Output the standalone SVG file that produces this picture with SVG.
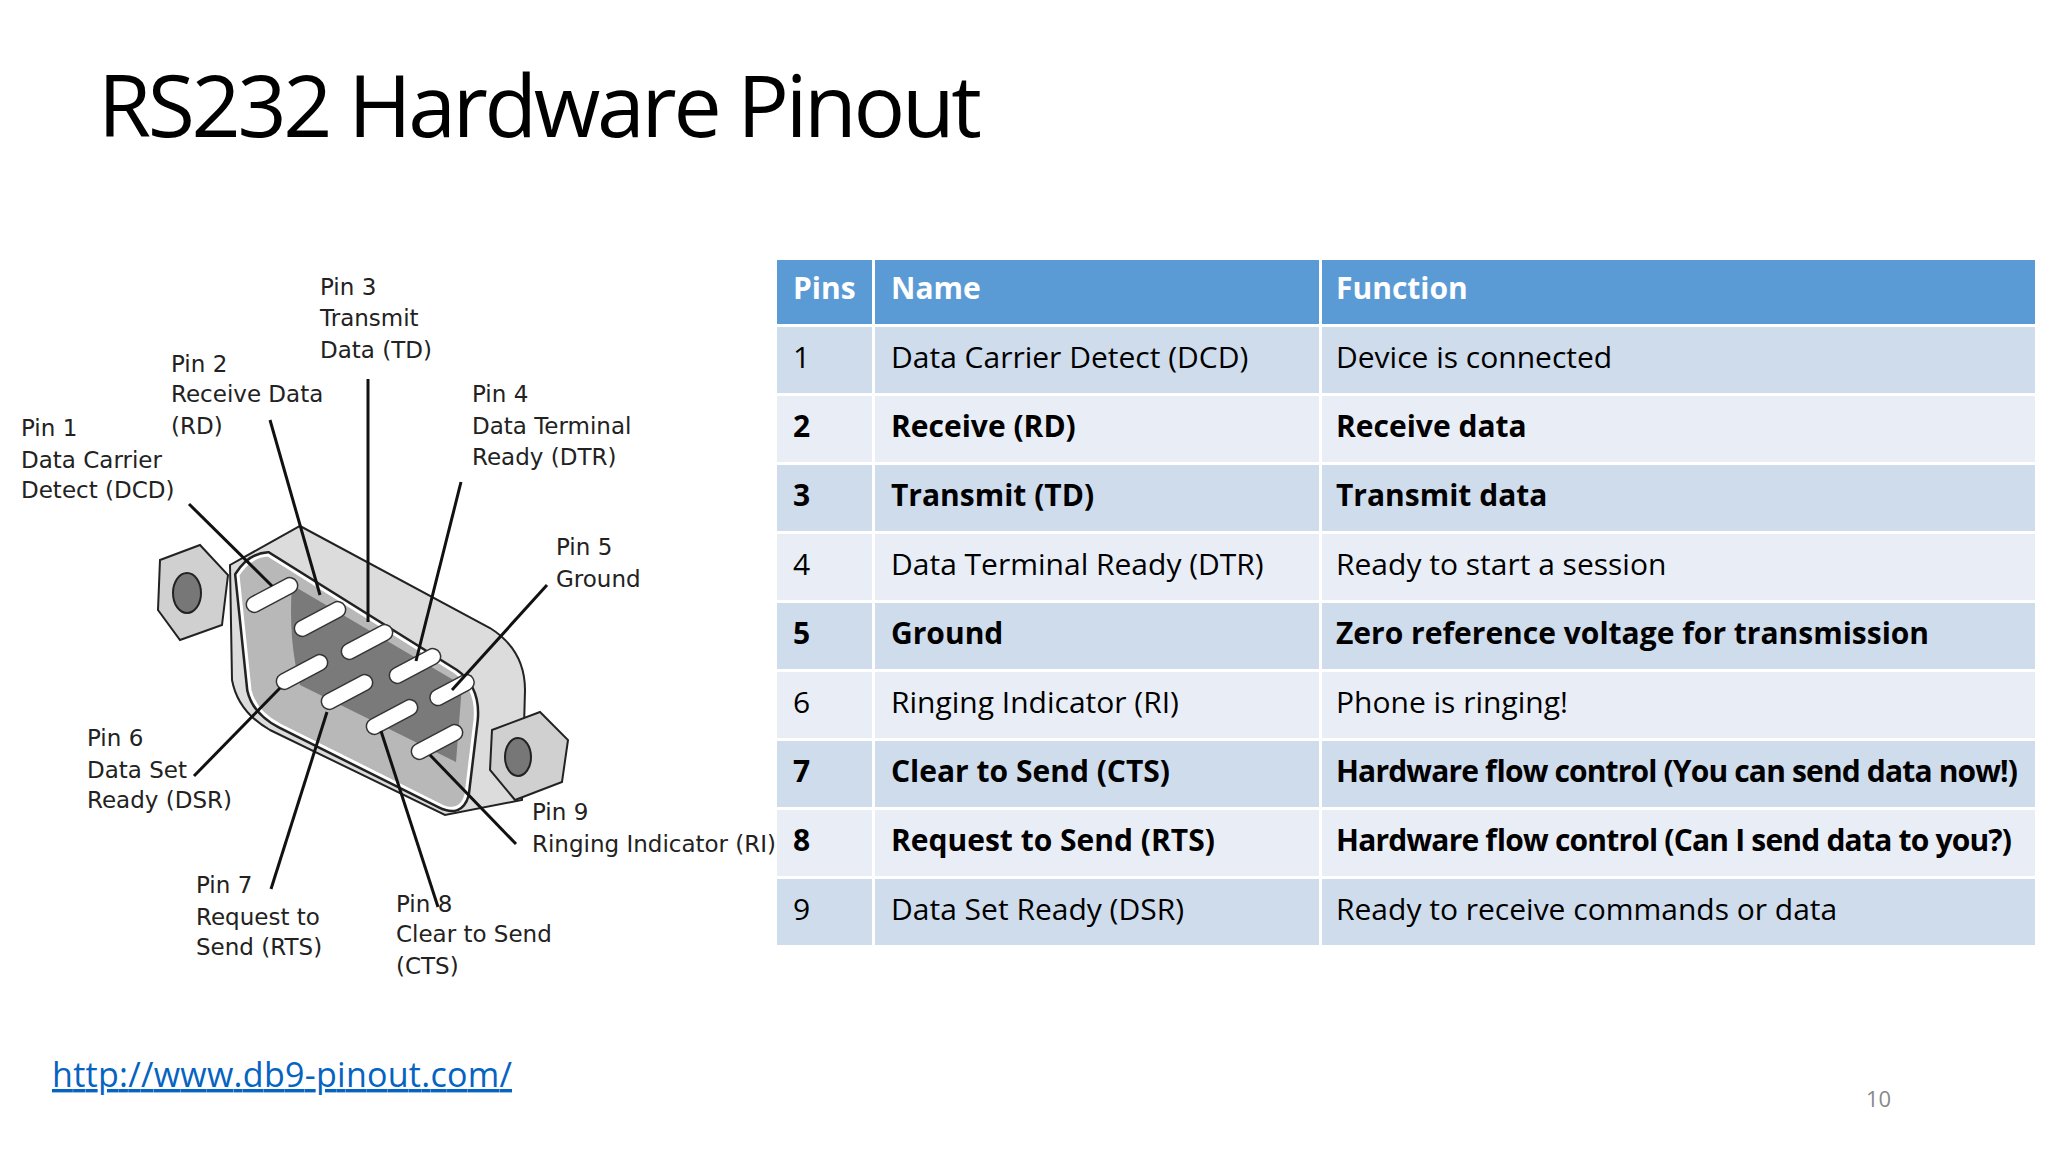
<svg xmlns="http://www.w3.org/2000/svg" width="2048" height="1152" viewBox="0 0 2048 1152">
<style>
.lbl{font-family:"DejaVu Sans",sans-serif;font-size:23px;fill:#222}
.ld{stroke:#111;stroke-width:3;fill:none}
.hd{font-family:"Open Sans","Liberation Sans",sans-serif;font-size:30px;font-weight:bold;fill:#fff}
.td{font-family:"Open Sans","Liberation Sans",sans-serif;font-size:30px;fill:#000}
.b{font-weight:bold}
.ra{fill:#cfdcec}.rb{fill:#e9eef6}
.pin{fill:#fff;stroke:#333;stroke-width:1.5}
</style>
<rect width="2048" height="1152" fill="#fff"/>
<text x="98" y="137" font-family="Open Sans,Liberation Sans,sans-serif" font-size="86" fill="#000" textLength="884">RS232 Hardware Pinout</text>

<g id="connector">
<g id="nut-left">
<polygon points="160,560 200,545 228,575 222,625 180,640 158,610" fill="#d0d0d0" stroke="#222" stroke-width="2"/>
<ellipse cx="187" cy="593" rx="14" ry="20" fill="#777" stroke="#222" stroke-width="2"/>
</g>
<path d="M230,565 L300,526 L490,628 Q525,650 525,690 L522,800 L445,815 L270,730 Q238,712 232,680 Z" fill="#dcdcdc" stroke="#222" stroke-width="2"/>
<path d="M238,575 Q250,556 268,555 L455,672 Q478,688 475,720 L466,795 Q460,815 440,805 L280,725 Q255,712 250,690 Z" fill="#b8b8b8" stroke="#222" stroke-width="8"/>
<path d="M238,575 Q250,556 268,555 L455,672 Q478,688 475,720 L466,795 Q460,815 440,805 L280,725 Q255,712 250,690 Z" fill="#b8b8b8" stroke="#fff" stroke-width="3"/>
<path d="M292,585 L462,685 L456,762 L300,685 Q288,640 292,585 Z" fill="#7a7a7a"/>
<g id="nut-right">
<polygon points="492,730 540,712 568,740 562,782 515,800 490,770" fill="#d0d0d0" stroke="#222" stroke-width="2"/>
<ellipse cx="518" cy="757" rx="13" ry="19" fill="#777" stroke="#222" stroke-width="2"/>
</g>
<g id="pins">
<rect class="pin" x="-28" y="-8" width="56" height="16" rx="8" transform="translate(272,595) rotate(-28)"/>
<rect class="pin" x="-28" y="-8" width="56" height="16" rx="8" transform="translate(320,619) rotate(-28)"/>
<rect class="pin" x="-28" y="-8" width="56" height="16" rx="8" transform="translate(367,642) rotate(-28)"/>
<rect class="pin" x="-28" y="-8" width="56" height="16" rx="8" transform="translate(415,666) rotate(-28)"/>
<rect class="pin" x="-24" y="-8" width="48" height="16" rx="8" transform="translate(452,690) rotate(-28)"/>
<rect class="pin" x="-28" y="-8" width="56" height="16" rx="8" transform="translate(302,672) rotate(-28)"/>
<rect class="pin" x="-28" y="-8" width="56" height="16" rx="8" transform="translate(347,692) rotate(-28)"/>
<rect class="pin" x="-28" y="-8" width="56" height="16" rx="8" transform="translate(392,717) rotate(-28)"/>
<rect class="pin" x="-28" y="-8" width="56" height="16" rx="8" transform="translate(437,742) rotate(-28)"/>
</g>
</g>

<g id="leaders">
<line class="ld" x1="189" y1="504" x2="272" y2="586"/>
<line class="ld" x1="270" y1="420" x2="320" y2="595"/>
<line class="ld" x1="368" y1="379" x2="368" y2="622"/>
<line class="ld" x1="461" y1="482" x2="416" y2="661"/>
<line class="ld" x1="547" y1="585" x2="452" y2="690"/>
<line class="ld" x1="194" y1="776" x2="280" y2="688"/>
<line class="ld" x1="271" y1="889" x2="327" y2="712"/>
<line class="ld" x1="438" y1="907" x2="381" y2="731"/>
<line class="ld" x1="516" y1="844" x2="430" y2="755"/>
</g>

<g id="labels">
<text class="lbl"><tspan x="21" y="436">Pin 1</tspan><tspan x="21" y="468">Data Carrier</tspan><tspan x="21" y="498">Detect (DCD)</tspan></text>
<text class="lbl"><tspan x="171" y="372">Pin 2</tspan><tspan x="171" y="402">Receive Data</tspan><tspan x="171" y="434">(RD)</tspan></text>
<text class="lbl"><tspan x="320" y="295">Pin 3</tspan><tspan x="320" y="326">Transmit</tspan><tspan x="320" y="358">Data (TD)</tspan></text>
<text class="lbl"><tspan x="472" y="402">Pin 4</tspan><tspan x="472" y="434">Data Terminal</tspan><tspan x="472" y="465">Ready (DTR)</tspan></text>
<text class="lbl"><tspan x="556" y="555">Pin 5</tspan><tspan x="556" y="587">Ground</tspan></text>
<text class="lbl"><tspan x="87" y="746">Pin 6</tspan><tspan x="87" y="778">Data Set</tspan><tspan x="87" y="808">Ready (DSR)</tspan></text>
<text class="lbl"><tspan x="196" y="893">Pin 7</tspan><tspan x="196" y="925">Request to</tspan><tspan x="196" y="955">Send (RTS)</tspan></text>
<text class="lbl"><tspan x="396" y="912">Pin 8</tspan><tspan x="396" y="942">Clear to Send</tspan><tspan x="396" y="974">(CTS)</tspan></text>
<text class="lbl"><tspan x="532" y="820">Pin 9</tspan><tspan x="532" y="852">Ringing Indicator (RI)</tspan></text>
</g>

<g id="table">
<rect x="777" y="260" width="95" height="64" fill="#5b9bd5"/>
<rect x="875" y="260" width="444" height="64" fill="#5b9bd5"/>
<rect x="1322" y="260" width="713" height="64" fill="#5b9bd5"/>
<text class="hd" x="793" y="299">Pins</text>
<text class="hd" x="891" y="299">Name</text>
<text class="hd" x="1336" y="299">Function</text>

<g class="ra"><rect x="777" y="327" width="95" height="66"/><rect x="875" y="327" width="444" height="66"/><rect x="1322" y="327" width="713" height="66"/></g>
<g class="rb"><rect x="777" y="396" width="95" height="66"/><rect x="875" y="396" width="444" height="66"/><rect x="1322" y="396" width="713" height="66"/></g>
<g class="ra"><rect x="777" y="465" width="95" height="66"/><rect x="875" y="465" width="444" height="66"/><rect x="1322" y="465" width="713" height="66"/></g>
<g class="rb"><rect x="777" y="534" width="95" height="66"/><rect x="875" y="534" width="444" height="66"/><rect x="1322" y="534" width="713" height="66"/></g>
<g class="ra"><rect x="777" y="603" width="95" height="66"/><rect x="875" y="603" width="444" height="66"/><rect x="1322" y="603" width="713" height="66"/></g>
<g class="rb"><rect x="777" y="672" width="95" height="66"/><rect x="875" y="672" width="444" height="66"/><rect x="1322" y="672" width="713" height="66"/></g>
<g class="ra"><rect x="777" y="741" width="95" height="66"/><rect x="875" y="741" width="444" height="66"/><rect x="1322" y="741" width="713" height="66"/></g>
<g class="rb"><rect x="777" y="810" width="95" height="66"/><rect x="875" y="810" width="444" height="66"/><rect x="1322" y="810" width="713" height="66"/></g>
<g class="ra"><rect x="777" y="879" width="95" height="66"/><rect x="875" y="879" width="444" height="66"/><rect x="1322" y="879" width="713" height="66"/></g>

<text class="td" x="793" y="368">1</text><text class="td" x="891" y="368">Data Carrier Detect (DCD)</text><text class="td" x="1336" y="368">Device is connected</text>
<text class="td b" x="793" y="437">2</text><text class="td b" x="891" y="437">Receive (RD)</text><text class="td b" x="1336" y="437">Receive data</text>
<text class="td b" x="793" y="506">3</text><text class="td b" x="891" y="506">Transmit (TD)</text><text class="td b" x="1336" y="506">Transmit data</text>
<text class="td" x="793" y="575">4</text><text class="td" x="891" y="575">Data Terminal Ready (DTR)</text><text class="td" x="1336" y="575">Ready to start a session</text>
<text class="td b" x="793" y="644">5</text><text class="td b" x="891" y="644">Ground</text><text class="td b" x="1336" y="644">Zero reference voltage for transmission</text>
<text class="td" x="793" y="713">6</text><text class="td" x="891" y="713">Ringing Indicator (RI)</text><text class="td" x="1336" y="713">Phone is ringing!</text>
<text class="td b" x="793" y="782">7</text><text class="td b" x="891" y="782">Clear to Send (CTS)</text><text class="td b" x="1336" y="782" textLength="682">Hardware flow control (You can send data now!)</text>
<text class="td b" x="793" y="851">8</text><text class="td b" x="891" y="851">Request to Send (RTS)</text><text class="td b" x="1336" y="851" textLength="676">Hardware flow control (Can I send data to you?)</text>
<text class="td" x="793" y="920">9</text><text class="td" x="891" y="920">Data Set Ready (DSR)</text><text class="td" x="1336" y="920">Ready to receive commands or data</text>
</g>

<text x="52" y="1087" font-family="Open Sans,Liberation Sans,sans-serif" font-size="34" fill="#0563c1" text-decoration="underline" textLength="460">http://www.db9-pinout.com/</text>
<text x="1866" y="1107" font-family="Open Sans,Liberation Sans,sans-serif" font-size="22" fill="#8a8a8a">10</text>
</svg>
